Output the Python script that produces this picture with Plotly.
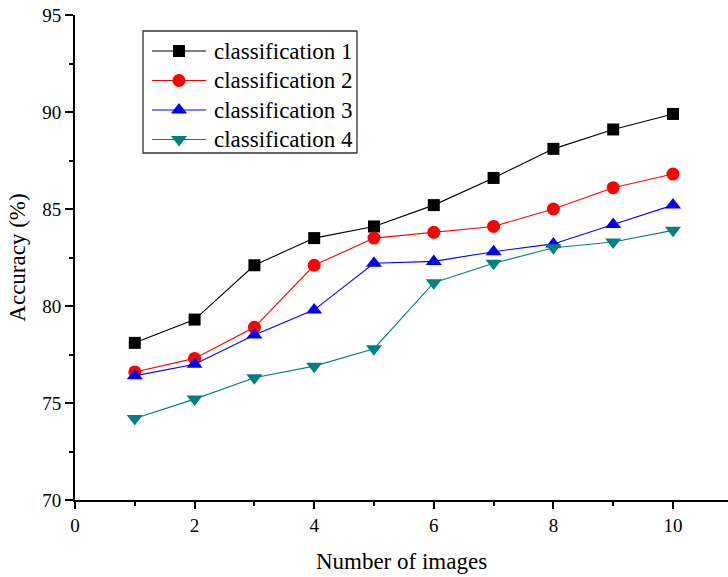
import plotly.graph_objects as go

# Number of images used for each evaluation
images = [1, 2, 3, 4, 5, 6, 7, 8, 9, 10]

# Accuracy (%) for each classification scheme
acc_class1 = [78.1, 79.3, 82.1, 83.5, 84.1, 85.2, 86.6, 88.1, 89.1, 89.9]
acc_class2 = [76.6, 77.3, 78.9, 82.1, 83.5, 83.8, 84.1, 85.0, 86.1, 86.8]
acc_class3 = [76.4, 77.0, 78.5, 79.8, 82.2, 82.3, 82.8, 83.2, 84.2, 85.2]
acc_class4 = [74.2, 75.2, 76.3, 76.9, 77.8, 81.2, 82.2, 83.0, 83.3, 83.9]

series_names = ["classification 1", "classification 2",
                "classification 3", "classification 4"]
series_values = [acc_class1, acc_class2, acc_class3, acc_class4]

colors = ["#000000", "#ff0000", "#0000ff", "#008080"]
symbols = ["square", "circle", "triangle-up", "triangle-down"]
sizes = [12, 13, 14, 14]

font_family = "Liberation Serif, Times New Roman, serif"

# Plot area in pixels (figure is 728 x 577)
PLOT_L, PLOT_R, PLOT_T, PLOT_B = 75, 728, 15, 500

fig = go.Figure()
for name, vals, color, symbol, size in zip(series_names, series_values,
                                           colors, symbols, sizes):
    fig.add_trace(go.Scatter(
        x=images, y=vals, name=name, mode="lines+markers",
        line=dict(color=color, width=1.1),
        marker=dict(symbol=symbol, size=size, color=color),
        showlegend=False,
    ))

# Boxed key drawn on a pixel-unit overlay axis in the upper-left corner
box_l, box_r, box_t, box_b = 143, 357, 31, 153
row_y0, row_step = 51, 29.5
seg_l, seg_r, text_x = 152, 206, 212

for i, (name, color, symbol, size) in enumerate(zip(series_names, colors,
                                                     symbols, sizes)):
    yy = row_y0 + i * row_step
    fig.add_trace(go.Scatter(
        x=[seg_l, seg_r], y=[yy, yy], xaxis="x2", yaxis="y2", mode="lines",
        line=dict(color=color, width=1.1),
        showlegend=False, hoverinfo="skip",
    ))
    fig.add_trace(go.Scatter(
        x=[(seg_l + seg_r) / 2], y=[yy], xaxis="x2", yaxis="y2",
        mode="markers",
        marker=dict(symbol=symbol, size=size, color=color, opacity=1),
        showlegend=False, hoverinfo="skip",
    ))
    fig.add_annotation(
        x=text_x, y=yy, xref="x2", yref="y2", text=name,
        showarrow=False, xanchor="left", yanchor="middle",
        font=dict(size=23, family=font_family, color="black"),
    )

fig.add_shape(
    type="rect", xref="x2", yref="y2",
    x0=box_l, x1=box_r, y0=box_t, y1=box_b,
    line=dict(color="#333333", width=1.3), fillcolor="rgba(0,0,0,0)",
    layer="below",
)

fig.update_layout(
    width=728, height=577,
    margin=dict(l=PLOT_L, r=728 - PLOT_R, t=PLOT_T, b=577 - PLOT_B),
    paper_bgcolor="white", plot_bgcolor="white",
    font=dict(family=font_family, color="black", size=19),
    showlegend=False,
    xaxis=dict(
        range=[0, 10.92], tickmode="array",
        tickvals=[0, 2, 4, 6, 8, 10], ticktext=["0", "2", "4", "6", "8", "10"],
        ticks="outside", ticklen=7, tickwidth=2, tickcolor="black",
        showline=True, linecolor="black", linewidth=2,
        showgrid=False, zeroline=False,
        minor=dict(tickvals=[1, 3, 5, 7, 9], ticks="outside", ticklen=4,
                   tickwidth=2, tickcolor="black"),
        title=dict(text="Number of images", font=dict(size=23), standoff=18),
        tickfont=dict(size=19),
    ),
    yaxis=dict(
        range=[70, 95], tickmode="array",
        tickvals=[70, 75, 80, 85, 90, 95],
        ticks="outside", ticklen=8, tickwidth=2, tickcolor="black",
        showline=True, linecolor="black", linewidth=2,
        showgrid=False, zeroline=False,
        minor=dict(tickvals=[72.5, 77.5, 82.5, 87.5, 92.5], ticks="outside",
                   ticklen=4, tickwidth=2, tickcolor="black"),
        title=dict(text="Accuracy (%)", font=dict(size=23), standoff=10),
        tickfont=dict(size=19),
    ),
    xaxis2=dict(range=[PLOT_L, PLOT_R], overlaying="x", visible=False,
                fixedrange=True),
    yaxis2=dict(range=[PLOT_B, PLOT_T], overlaying="y", visible=False,
                fixedrange=True),
)

fig.write_html("out.html")
